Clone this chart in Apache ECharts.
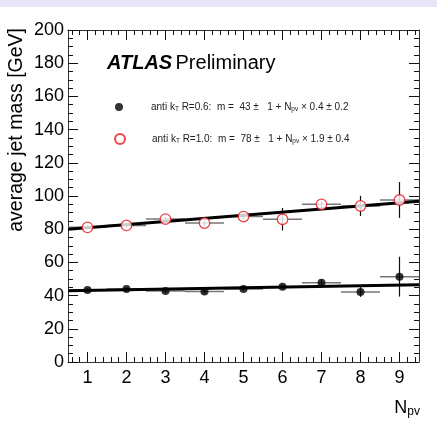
<!DOCTYPE html>
<html>
<head>
<meta charset="utf-8">
<script src="https://cdn.jsdelivr.net/npm/echarts@6/dist/echarts.min.js"></script>
<style>
html,body{margin:0;padding:0;background:#fff;}
#chart{width:437px;height:426px;}
</style>
</head>
<body>
<div id="chart"></div>
<script>
// ---- data ----
const npv = [1, 2, 3, 4, 5, 6, 7, 8, 9];
const massR06 = [43.4, 44.0, 42.8, 42.4, 44.0, 45.4, 47.8, 42.2, 51.4];
const errR06  = [1.0, 1.0, 1.2, 1.2, 1.0, 1.3, 1.8, 3.0, 12.0];
const massR10 = [81.1, 82.3, 86.1, 83.7, 87.6, 86.0, 95.0, 94.0, 97.6];
const errR10  = [1.2, 1.2, 1.5, 1.5, 1.5, 6.8, 2.0, 6.1, 10.8];
const binHalfWidth = 0.5;
// fit lines (endpoints)
const fitX   = [0.5, 9.5];
const fitR06 = [42.9, 46.6];
const fitR10 = [80.0, 96.9];
// legend fit parameters
const radii       = ['0.6', '1.0'];
const fitOffset   = [43, 78];
const fitOffsetE  = [1, 1];
const fitSlope    = ['0.4', '1.9'];
const fitSlopeE   = ['0.2', '0.4'];
// ticks
const xMajorTicks = [1, 2, 3, 4, 5, 6, 7, 8, 9];
const xMinorTicks = [];
for (let t = 6; t <= 94; t += 2) { if (t % 10 !== 0) xMinorTicks.push(t / 10); }

const FONT = '"Liberation Sans", Arial, Helvetica, sans-serif';

function pts(xs, ys) { return xs.map((x, i) => [x, ys[i]]); }
function errData(xs, ys, es) { return xs.map((x, i) => [x, ys[i], es[i]]); }

function errRender(params, api) {
  const x = api.value(0), y = api.value(1), e = api.value(2);
  const h1 = api.coord([x - binHalfWidth, y]);
  const h2 = api.coord([x + binHalfWidth, y]);
  const v1 = api.coord([x, y - e]);
  const v2 = api.coord([x, y + e]);
  return {
    type: 'group',
    children: [
      { type: 'line', shape: { x1: h1[0], y1: h1[1], x2: h2[0], y2: h2[1] },
        style: { stroke: '#777', lineWidth: 1.5 } },
      { type: 'line', shape: { x1: v1[0], y1: v1[1], x2: v2[0], y2: v2[1] },
        style: { stroke: '#111', lineWidth: 1.2 } }
    ]
  };
}

function legendText(i) {
  return '{g| }{n|anti k}{s|T}{n| R=' + radii[i] + ':  m =  ' + fitOffset[i] + ' \u00b1   ' + fitOffsetE[i] +
         ' + N}{s|pv}{n| \u00d7 ' + fitSlope[i] + ' \u00b1 ' + fitSlopeE[i] + '}';
}
function legendRich(gap) {
  return {
    g: { width: gap, fontSize: 10, lineHeight: 12 },
    n: { fontSize: 10, fontFamily: FONT, color: '#222', lineHeight: 12 },
    s: { fontSize: 6.5, fontFamily: FONT, color: '#222', lineHeight: 5, verticalAlign: 'bottom' }
  };
}

const nameR06 = 'anti-kT R=0.6';
const nameR10 = 'anti-kT R=1.0';

const axisLineStyle = { color: '#333', width: 1 };
const tickStyle = { color: '#111', width: 1 };

const xBase = { type: 'value', min: 0.5, max: 9.5, splitLine: { show: false } };
const chart = echarts.init(document.getElementById('chart'), null, { renderer: 'canvas' });
chart.setOption({
  animation: false,
  backgroundColor: '#fff',
  grid: { left: 68, top: 30, width: 351, height: 332 },
  xAxis: [
    Object.assign({}, xBase, { position: 'bottom',
      axisLine: { show: true, lineStyle: axisLineStyle },
      axisTick: { show: true, inside: true, length: 10, customValues: xMajorTicks, lineStyle: tickStyle },
      axisLabel: { show: true, customValues: xMajorTicks, fontSize: 18, fontFamily: FONT, color: '#000', margin: 7 } }),
    Object.assign({}, xBase, { position: 'bottom',
      axisLine: { show: false },
      axisTick: { show: true, inside: true, length: 5, customValues: xMinorTicks, lineStyle: tickStyle },
      axisLabel: { show: false } }),
    Object.assign({}, xBase, { position: 'top',
      axisLine: { show: true, lineStyle: axisLineStyle },
      axisTick: { show: true, inside: true, length: 10, customValues: xMajorTicks, lineStyle: tickStyle },
      axisLabel: { show: false } }),
    Object.assign({}, xBase, { position: 'top',
      axisLine: { show: false },
      axisTick: { show: true, inside: true, length: 5, customValues: xMinorTicks, lineStyle: tickStyle },
      axisLabel: { show: false } })
  ],
  yAxis: [
    { type: 'value', min: 0, max: 200, interval: 20, position: 'left',
      splitLine: { show: false },
      axisLine: { show: true, lineStyle: axisLineStyle },
      axisTick: { show: true, inside: true, length: 10, lineStyle: tickStyle },
      minorTick: { show: true, splitNumber: 4, length: 5, lineStyle: tickStyle },
      axisLabel: { fontSize: 18, fontFamily: FONT, color: '#000', margin: 4 } },
    { type: 'value', min: 0, max: 200, interval: 20, position: 'right',
      splitLine: { show: false },
      axisLine: { show: true, lineStyle: axisLineStyle },
      axisTick: { show: true, inside: true, length: 10, lineStyle: tickStyle },
      minorTick: { show: true, splitNumber: 4, length: 5, lineStyle: tickStyle },
      axisLabel: { show: false } }
  ],
  legend: [
    { data: [{ name: nameR06, icon: 'circle' }], left: 115, top: 102, padding: 0,
      itemWidth: 8, itemHeight: 8, selectedMode: false,
      formatter: () => legendText(0), textStyle: { rich: legendRich(23) } },
    { data: [{ name: nameR10, icon: 'circle' }], left: 114, top: 133, padding: 0,
      itemWidth: 10, itemHeight: 10, selectedMode: false,
      formatter: () => legendText(1), textStyle: { rich: legendRich(22) } }
  ],
  graphic: [
    { type: 'rect', left: 0, top: 0, shape: { width: 437, height: 7 }, style: { fill: '#e6e4f6' }, silent: true },
    { type: 'text', x: 107, y: 63.5, silent: true,
      style: { text: '{b|ATLAS} {p|Preliminary}', verticalAlign: 'middle',
        rich: { b: { fontSize: 20, fontWeight: 'bold', fontStyle: 'italic', fontFamily: FONT, fill: '#000' },
                p: { fontSize: 20, fontFamily: FONT, fill: '#000' } } } },
    { type: 'text', x: 17, y: 28, rotation: Math.PI / 2, silent: true,
      style: { text: 'average jet mass [GeV]', align: 'right', verticalAlign: 'middle',
        fontSize: 19.5, fontFamily: FONT, fill: '#000' } },
    { type: 'text', x: 420, y: 408, silent: true,
      style: { text: '{N|N}{s|pv}', align: 'right', verticalAlign: 'middle',
        rich: { N: { fontSize: 18, fontFamily: FONT, fill: '#000', lineHeight: 20 },
                s: { fontSize: 12, fontFamily: FONT, fill: '#000', lineHeight: 10, verticalAlign: 'bottom' } } } }
  ],
  series: [
    { name: 'err R=0.6', type: 'custom', renderItem: errRender, data: errData(npv, massR06, errR06), z: 1, silent: true },
    { name: 'err R=1.0', type: 'custom', renderItem: errRender, data: errData(npv, massR10, errR10), z: 1, silent: true },
    { name: 'fit R=0.6', type: 'line', data: pts(fitX, fitR06), showSymbol: false, symbol: 'none',
      lineStyle: { color: '#000', width: 3 }, z: 2, silent: true },
    { name: 'fit R=1.0', type: 'line', data: pts(fitX, fitR10), showSymbol: false, symbol: 'none',
      lineStyle: { color: '#000', width: 3 }, z: 2, silent: true },
    { name: nameR06, type: 'scatter', data: pts(npv, massR06), symbol: 'circle', symbolSize: 8,
      itemStyle: { color: '#000' }, z: 3 },
    { name: nameR10, type: 'scatter', data: pts(npv, massR10), symbol: 'circle', symbolSize: 10.5,
      itemStyle: { color: '#fff', borderColor: '#e8141b', borderWidth: 1.3 }, z: 3 }
  ]
});
</script>
</body>
</html>
